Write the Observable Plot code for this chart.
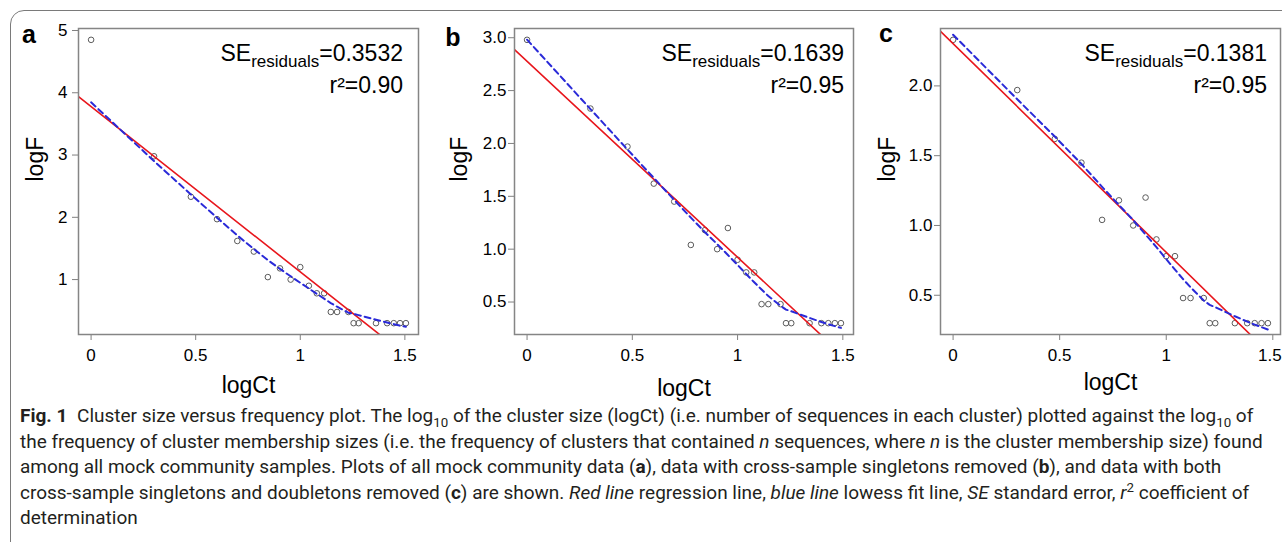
<!DOCTYPE html>
<html><head><meta charset="utf-8">
<script src="https://cdn.jsdelivr.net/npm/d3@7"></script>
<script src="https://cdn.jsdelivr.net/npm/@observablehq/plot@0.6"></script>
<style>
html,body{margin:0;padding:0;background:#fff;}
body{width:1282px;height:542px;overflow:hidden;position:relative;font-family:"Liberation Sans",Arial,sans-serif;}
#border{position:absolute;left:10px;top:10px;width:1320px;height:580px;border:1.6px solid #7a7a7a;border-radius:14px;box-sizing:border-box;}
.panel{position:absolute;top:0;height:400px;}
#caption{position:absolute;left:20px;top:403px;font-family:Roboto,"Noto Sans",sans-serif;line-height:25.5px;color:#231f20;white-space:nowrap;font-size:16px;}
#caption sub,#caption sup{line-height:0;font-size:0.7em;}
#caption b{font-weight:700;}
</style></head><body>
<div id="border"></div>
<div id="pa" class="panel" style="left:0;width:430px"></div>
<div id="pb" class="panel" style="left:436px;width:430px"></div>
<div id="pc" class="panel" style="left:862px;width:420px"></div>
<div id="caption">
<div><span id="l1"><b>Fig. 1</b>&ensp;Cluster size versus frequency plot. The log<sub>10</sub> of the cluster size (logCt) (i.e. number of sequences in each cluster) plotted against the log<sub>10</sub> of</span></div>
<div><span id="l2">the frequency of cluster membership sizes (i.e. the frequency of clusters that contained <i>n</i> sequences, where <i>n</i> is the cluster membership size) found</span></div>
<div><span>among all mock community samples. Plots of all mock community data (<b>a</b>), data with cross-sample singletons removed (<b>b</b>), and data with both</span></div>
<div><span>cross-sample singletons and doubletons removed (<b>c</b>) are shown. <i>Red line</i> regression line, <i>blue line</i> lowess fit line, <i>SE</i> standard error, <i>r</i><sup>2</sup> coefficient of</span></div>
<div><span>determination</span></div>
</div>
<script>
// ---- Data ----
// Panel a: all mock community data
const logCtA = [0, 0.301, 0.477, 0.602, 0.699, 0.778, 0.845, 0.903, 0.954, 1.000, 1.041, 1.079, 1.114, 1.146, 1.176, 1.230, 1.255, 1.279, 1.362, 1.415, 1.447, 1.477, 1.505];
const logFA  = [4.85, 2.98, 2.33, 1.97, 1.62, 1.45, 1.04, 1.18, 1.00, 1.20, 0.90, 0.78, 0.78, 0.48, 0.48, 0.48, 0.30, 0.30, 0.30, 0.30, 0.30, 0.30, 0.30];
// Panel b: cross-sample singletons removed
const logCtB = [0, 0.301, 0.477, 0.602, 0.699, 0.778, 0.845, 0.903, 0.954, 1.000, 1.041, 1.079, 1.114, 1.146, 1.204, 1.230, 1.255, 1.342, 1.398, 1.431, 1.462, 1.491];
const logFB  = [2.98, 2.33, 1.97, 1.62, 1.45, 1.04, 1.18, 1.00, 1.20, 0.90, 0.78, 0.78, 0.48, 0.48, 0.48, 0.30, 0.30, 0.30, 0.30, 0.30, 0.30, 0.30];
// Panel c: cross-sample singletons and doubletons removed
const logCtC = [0, 0.301, 0.477, 0.602, 0.699, 0.778, 0.845, 0.903, 0.954, 1.000, 1.041, 1.079, 1.114, 1.176, 1.204, 1.230, 1.322, 1.380, 1.415, 1.447, 1.477];
const logFC  = [2.33, 1.97, 1.62, 1.45, 1.04, 1.18, 1.00, 1.20, 0.90, 0.78, 0.78, 0.48, 0.48, 0.48, 0.30, 0.30, 0.30, 0.30, 0.30, 0.30, 0.30];

const panelLetters = ["a", "b", "c"];
const seResiduals = ["0.3532", "0.1639", "0.1381"];
const rSquared = ["0.90", "0.95", "0.95"];
const xTicks = [0, 0.5, 1, 1.5];
const yTicksA = [1, 2, 3, 4, 5];
const yTicksB = [0.5, 1.0, 1.5, 2.0, 2.5, 3.0];
const yTicksC = [0.5, 1.0, 1.5, 2.0];

// ---- helpers ----
function expand([lo, hi]) { const d = (hi - lo) * 0.04; return [lo - d, hi + d]; }
function linreg(xs, ys) {
  const mx = d3.mean(xs), my = d3.mean(ys);
  let sxy = 0, sxx = 0;
  xs.forEach((x, i) => { sxy += (x - mx) * (ys[i] - my); sxx += (x - mx) ** 2; });
  const b = sxy / sxx;
  return {a: my - b * mx, b};
}
// port of R's clowess (lowess, f = 2/3, iter = 3)
function lowess(x, y, f = 2/3, iter = 3) {
  const n = x.length;
  const ns = Math.max(2, Math.min(n, Math.floor(f * n + 1e-7)));
  const range = x[n-1] - x[0];
  const ys = new Array(n).fill(0), rw = new Array(n).fill(1), res = new Array(n).fill(0), w = new Array(n).fill(0);
  for (let it = 1; it <= iter + 1; it++) {
    let nleft = 0, nright = ns - 1;
    for (let i = 0; i < n; i++) {
      const xs = x[i];
      while (nright < n - 1) {
        const d1 = xs - x[nleft], d2 = x[nright + 1] - xs;
        if (d1 <= d2) break;
        nleft++; nright++;
      }
      const h = Math.max(xs - x[nleft], x[nright] - xs);
      const h9 = 0.999 * h, h1 = 0.001 * h;
      let a = 0, j = nleft;
      while (j < n) {
        w[j] = 0;
        const r = Math.abs(x[j] - xs);
        if (r <= h9) {
          w[j] = r <= h1 ? 1 : Math.pow(1 - Math.pow(r / h, 3), 3);
          if (it > 1) w[j] *= rw[j];
          a += w[j];
        } else if (x[j] > xs) break;
        j++;
      }
      const nrt = j - 1;
      if (a <= 0) { ys[i] = y[i]; continue; }
      for (let k = nleft; k <= nrt; k++) w[k] /= a;
      if (h > 0) {
        let aa = 0;
        for (let k = nleft; k <= nrt; k++) aa += w[k] * x[k];
        let b = xs - aa, c = 0;
        for (let k = nleft; k <= nrt; k++) c += w[k] * (x[k] - aa) ** 2;
        if (Math.sqrt(c) > 0.001 * range) {
          b /= c;
          for (let k = nleft; k <= nrt; k++) w[k] *= (b * (x[k] - aa) + 1);
        }
      }
      let s = 0;
      for (let k = nleft; k <= nrt; k++) s += w[k] * y[k];
      ys[i] = s;
    }
    for (let i = 0; i < n; i++) res[i] = y[i] - ys[i];
    if (it > iter) break;
    const sc = d3.sum(res, Math.abs) / n;
    const sorted = res.map(Math.abs).sort((p, q) => p - q);
    const med = n % 2 ? sorted[(n - 1) / 2] : (sorted[n / 2 - 1] + sorted[n / 2]) / 2;
    const cmad = 6 * med;
    if (cmad < 1e-7 * sc) break;
    const c9 = 0.999 * cmad, c1 = 0.001 * cmad;
    for (let i = 0; i < n; i++) {
      const r = Math.abs(res[i]);
      rw[i] = r <= c1 ? 1 : r <= c9 ? (1 - (r / cmad) ** 2) ** 2 : 0;
    }
  }
  return ys;
}

const FONT = "'Liberation Sans', Arial, Helvetica, sans-serif";

function makePanel(cfg) {
  const {el, xs, ys, yTicks, yFormat, width, marginRight, idx, letterX, letterY, annX, yLabelDx, xLabelDy, yTickPadding, lastDx} = cfg;
  const pts = xs.map((x, i) => ({x, y: ys[i]}));
  const xd = expand(d3.extent(xs)), yd = expand(d3.extent(ys));
  const {a, b} = linreg(xs, ys);
  const reg = xd.map(x => ({x, y: a + b * x}));
  const lw = lowess(xs, ys).map((y, i) => ({x: xs[i], y}));
  const last = xTicks[xTicks.length - 1];
  const xAxisCommon = {tickPadding: 8, fontSize: 17, stroke: "#808080", fill: "#000", label: null};
  const plot = Plot.plot({
    width, height: 400,
    marginLeft: 78, marginRight, marginTop: 28, marginBottom: 66,
    style: {fontFamily: FONT, background: "transparent", overflow: "visible", color: "#000"},
    x: {domain: xd},
    y: {domain: yd},
    marks: [
      Plot.axisX({...xAxisCommon, ticks: xTicks, tickSize: 6, tickFormat: d => (lastDx && d === last) ? "" : String(d)}),
      lastDx ? Plot.axisX({...xAxisCommon, ticks: [last], tickSize: 0, tickPadding: 14, dx: lastDx, tickFormat: d => String(d)}) : null,
      Plot.axisY({ticks: yTicks, tickFormat: yFormat, tickSize: 6, tickPadding: yTickPadding, fontSize: 17, stroke: "#808080", fill: "#000", label: null}),
      Plot.dot(pts, {x: "x", y: "y", r: 2.8, stroke: "#5c5c5c", strokeWidth: 1, fill: "none"}),
      Plot.line(reg, {x: "x", y: "y", stroke: "#e8161c", strokeWidth: 1.6, clip: true}),
      Plot.line(lw, {x: "x", y: "y", stroke: "#2a2ad8", strokeWidth: 2, strokeDasharray: "6,4", clip: true}),
      Plot.frame({stroke: "#858585", strokeWidth: 1.5}),
      Plot.text(["logF"], {text: d => d, frameAnchor: "left", dx: yLabelDx, rotate: -90, fontSize: 23, fill: "#000"}),
      Plot.text(["logCt"], {text: d => d, frameAnchor: "bottom", dy: xLabelDy, lineAnchor: "middle", fontSize: 23, fill: "#000"})
    ]
  });
  const svg = d3.select(plot);
  svg.append("text").attr("x", letterX).attr("y", letterY).attr("font-size", 25).attr("font-weight", "bold").attr("fill", "#000").text(panelLetters[idx]);
  const t1 = svg.append("text").attr("x", annX).attr("y", 61).attr("text-anchor", "end").attr("font-size", 23).attr("fill", "#000");
  t1.append("tspan").text("SE");
  t1.append("tspan").attr("font-size", 17).attr("dy", 6).text("residuals");
  t1.append("tspan").attr("dy", -6).text("=" + seResiduals[idx]);
  svg.append("text").attr("x", annX).attr("y", 93).attr("text-anchor", "end").attr("font-size", 23).attr("fill", "#000").text("r\u00b2=" + rSquared[idx]);
  document.getElementById(el).appendChild(plot);
}

makePanel({el: "pa", idx: 0, xs: logCtA, ys: logFA, yTicks: yTicksA, yFormat: d => String(d), width: 430, marginRight: 12,
  letterX: 29, letterY: 43, annX: 403, yLabelDx: -43, xLabelDy: 51, yTickPadding: 5, lastDx: 0});
makePanel({el: "pb", idx: 1, xs: logCtB, ys: logFB, yTicks: yTicksB, yFormat: d3.format(".1f"), width: 430, marginRight: 13,
  letterX: 17, letterY: 46, annX: 408, yLabelDx: -55, xLabelDy: 54, yTickPadding: 2, lastDx: 0});
makePanel({el: "pc", idx: 2, xs: logCtC, ys: logFC, yTicks: yTicksC, yFormat: d3.format(".1f"), width: 420, marginRight: 2,
  letterX: 24, letterY: 42, annX: 405, yLabelDx: -53, xLabelDy: 48, yTickPadding: 2, lastDx: -3});

// fit caption width to the figure
const cap = document.getElementById("caption");
const w2 = document.getElementById("l2").getBoundingClientRect().width;
cap.style.fontSize = (16 * 1243 / w2) + "px";
</script>
</body></html>
